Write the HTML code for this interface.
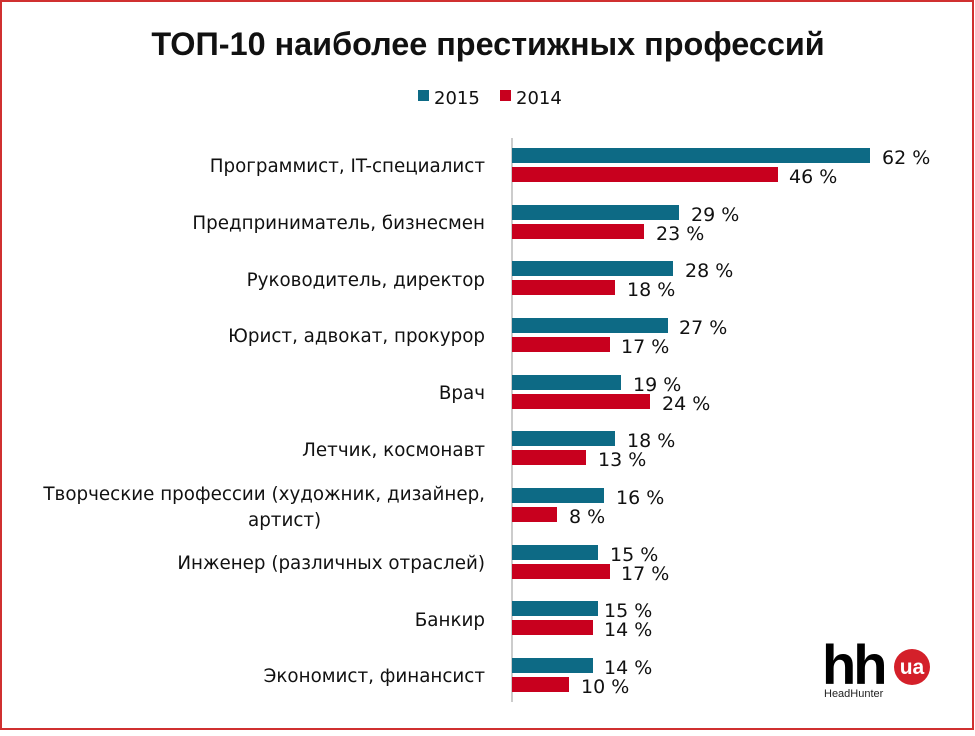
<!DOCTYPE html>
<html><head><meta charset="utf-8"><style>
body{margin:0;background:#fff}
</style></head><body>
<svg width="975" height="731" xmlns="http://www.w3.org/2000/svg" font-family="'DejaVu Sans', 'Liberation Sans', sans-serif">
<rect x="1" y="1" width="972" height="728" fill="#fff" stroke="#d03030" stroke-width="2"/>
<text x="488" y="55" text-anchor="middle" font-size="32.4" font-weight="bold" fill="#111" font-family="'Liberation Sans', sans-serif">ТОП-10 наиболее престижных профессий</text>
<rect x="418" y="90" width="11" height="11" fill="#0d6a85"/>
<text x="434" y="104" font-size="18" fill="#111">2015</text>
<rect x="500" y="90" width="11" height="11" fill="#c8001e"/>
<text x="516" y="104" font-size="18" fill="#111">2014</text>
<line x1="512" y1="138" x2="512" y2="702" stroke="#999" stroke-width="1"/>
<g font-size="18.3" fill="#111" text-anchor="end">
<text x="485" y="172">Программист, IT-специалист</text>
<text x="485" y="229">Предприниматель, бизнесмен</text>
<text x="485" y="286">Руководитель, директор</text>
<text x="485" y="342">Юрист, адвокат, прокурор</text>
<text x="485" y="399">Врач</text>
<text x="485" y="456">Летчик, космонавт</text>
<text x="485" y="500">Творческие профессии (художник, дизайнер,</text>
<text x="248" y="526" text-anchor="start">артист)</text>
<text x="485" y="569">Инженер (различных отраслей)</text>
<text x="485" y="626">Банкир</text>
<text x="485" y="682">Экономист, финансист</text>
</g>
<g font-size="19" fill="#111">
<rect x="512" y="148" width="358" height="15" fill="#0d6a85"/><text x="882" y="164">62 %</text>
<rect x="512" y="167" width="266" height="15" fill="#c8001e"/><text x="789" y="183">46 %</text>
<rect x="512" y="205" width="167" height="15" fill="#0d6a85"/><text x="691" y="221">29 %</text>
<rect x="512" y="224" width="132" height="15" fill="#c8001e"/><text x="656" y="240">23 %</text>
<rect x="512" y="261" width="161" height="15" fill="#0d6a85"/><text x="685" y="277">28 %</text>
<rect x="512" y="280" width="103" height="15" fill="#c8001e"/><text x="627" y="296">18 %</text>
<rect x="512" y="318" width="156" height="15" fill="#0d6a85"/><text x="679" y="334">27 %</text>
<rect x="512" y="337" width="98" height="15" fill="#c8001e"/><text x="621" y="353">17 %</text>
<rect x="512" y="375" width="109" height="15" fill="#0d6a85"/><text x="633" y="391">19 %</text>
<rect x="512" y="394" width="138" height="15" fill="#c8001e"/><text x="662" y="410">24 %</text>
<rect x="512" y="431" width="103" height="15" fill="#0d6a85"/><text x="627" y="447">18 %</text>
<rect x="512" y="450" width="74" height="15" fill="#c8001e"/><text x="598" y="466">13 %</text>
<rect x="512" y="488" width="92" height="15" fill="#0d6a85"/><text x="616" y="504">16 %</text>
<rect x="512" y="507" width="45" height="15" fill="#c8001e"/><text x="569" y="523">8 %</text>
<rect x="512" y="545" width="86" height="15" fill="#0d6a85"/><text x="610" y="561">15 %</text>
<rect x="512" y="564" width="98" height="15" fill="#c8001e"/><text x="621" y="580">17 %</text>
<rect x="512" y="601" width="86" height="15" fill="#0d6a85"/><text x="604" y="617">15 %</text>
<rect x="512" y="620" width="81" height="15" fill="#c8001e"/><text x="604" y="636">14 %</text>
<rect x="512" y="658" width="81" height="15" fill="#0d6a85"/><text x="604" y="674">14 %</text>
<rect x="512" y="677" width="57" height="15" fill="#c8001e"/><text x="581" y="693">10 %</text>
</g>
<text x="822" y="684" font-size="56" font-weight="bold" fill="#000" letter-spacing="-3" font-family="'Liberation Sans', sans-serif">hh</text>
<circle cx="912" cy="667" r="18" fill="#d4202a"/>
<text x="912" y="674" text-anchor="middle" font-size="21" font-weight="bold" fill="#fff" font-family="'Liberation Sans', sans-serif">ua</text>
<text x="824" y="697" font-size="11" fill="#222" font-family="'Liberation Sans', sans-serif">HeadHunter</text>
</svg>
</body></html>
